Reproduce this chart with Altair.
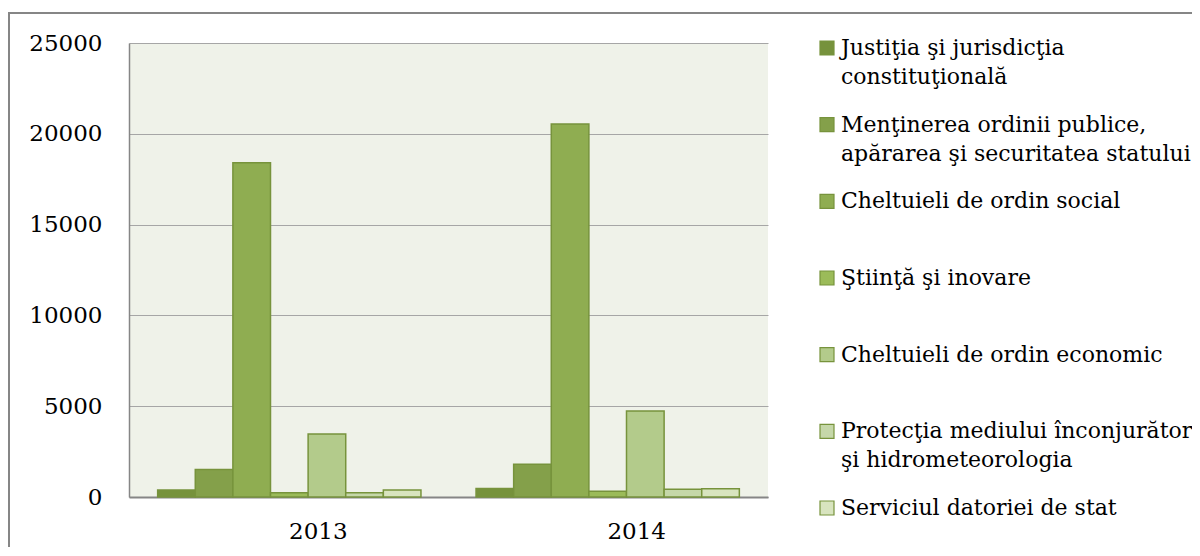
import altair as alt
import pandas as pd

years = ["2013", "2014"]
categories = [
    "Justiţia şi jurisdicţia constituţională",
    "Menţinerea ordinii publice, apărarea şi securitatea statului",
    "Cheltuieli de ordin social",
    "Ştiinţă şi inovare",
    "Cheltuieli de ordin economic",
    "Protecţia mediului înconjurător şi hidrometeorologia",
    "Serviciul datoriei de stat",
]
values_2013 = [380, 1520, 18400, 240, 3470, 240, 380]
values_2014 = [470, 1800, 20540, 310, 4730, 420, 450]
label_line1 = [
    "Justiţia şi jurisdicţia",
    "Menţinerea ordinii publice,",
    "Cheltuieli de ordin social",
    "Ştiinţă şi inovare",
    "Cheltuieli de ordin economic",
    "Protecţia mediului înconjurător",
    "Serviciul datoriei de stat",
]
label_line2 = [
    "constituţională",
    "apărarea şi securitatea statului",
    "",
    "",
    "",
    "şi hidrometeorologia",
    "",
]
colors = ["#76923C", "#84A04A", "#8FAD51", "#9BBB59", "#B3CB8B", "#C5D7A9", "#D8E4BF"]
y_ticks = [0, 5000, 10000, 15000, 20000, 25000]

rows = []
for yr, vals in zip(years, [values_2013, values_2014]):
    for c, v in zip(categories, vals):
        rows.append({"year": yr, "cat": c, "value": v})
df = pd.DataFrame(rows)
leg = pd.DataFrame({"cat": categories, "line1": label_line1, "line2": label_line2})
leg2 = leg[leg["line2"] != ""]

FONT = "DejaVu Serif"
color_scale = alt.Scale(domain=categories, range=colors)

bars = alt.Chart(df).mark_bar(stroke="#77933C", strokeWidth=1.5).encode(
    x=alt.X(
        "year:N", sort=years, title=None,
        scale=alt.Scale(paddingInner=0.173, paddingOuter=0.09),
        axis=alt.Axis(labelAngle=0, labelFont=FONT, labelFontSize=23, labelColor="#000000",
                      labelPadding=34, labelBaseline="middle", ticks=False, tickSize=0,
                      domainColor="#868686", domainWidth=2, labelOffset=29, grid=False),
    ),
    xOffset=alt.XOffset("cat:N", sort=categories, scale=alt.Scale(paddingInner=0, paddingOuter=0)),
    y=alt.Y(
        "value:Q", title=None,
        scale=alt.Scale(domain=[0, 25000], nice=False),
        axis=alt.Axis(values=y_ticks, format="d", labelFont=FONT, labelFontSize=23,
                      labelColor="#000000", labelPadding=27, ticks=False, tickSize=0,
                      domainColor="#868686", domainWidth=1.5, gridColor="#A6A6A6", gridWidth=1),
    ),
    color=alt.Color("cat:N", scale=color_scale, legend=None),
)

leg_y = alt.Y("cat:N", axis=None,
              scale=alt.Scale(type="point", domain=categories, range=[5, 465], padding=0))

leg_sym = alt.Chart(leg).mark_square(size=196, opacity=1, stroke="#77933C", strokeWidth=1.2).encode(
    x=alt.value(698),
    y=leg_y,
    color=alt.Color("cat:N", scale=color_scale, legend=None),
)
leg_t1 = alt.Chart(leg).mark_text(align="left", baseline="middle", font=FONT, fontSize=22,
                                  color="#000000").encode(
    x=alt.value(712), y=leg_y, text="line1:N"
)
leg_t2 = alt.Chart(leg2).mark_text(align="left", baseline="middle", font=FONT, fontSize=22,
                                   color="#000000", dy=29).encode(
    x=alt.value(712), y=leg_y, text="line2:N"
)

frame = alt.Chart(pd.DataFrame({"a": [0]})).mark_rect(filled=False, stroke="#868686", strokeWidth=2).encode(
    x=alt.value(-120), x2=alt.value(1080), y=alt.value(-30), y2=alt.value(520)
)

chart = alt.layer(frame, bars, leg_sym, leg_t1, leg_t2).resolve_scale(
    y="independent"
).properties(
    width=639, height=454,
    autosize=alt.AutoSizeParams(type="none"),
    padding={"left": 121, "top": 35, "right": 424, "bottom": 50},
    background="#FFFFFF",
).configure_view(fill="#EFF2E9", stroke=None)

chart.save("out.html", embed_options={"renderer": "svg", "actions": False})
